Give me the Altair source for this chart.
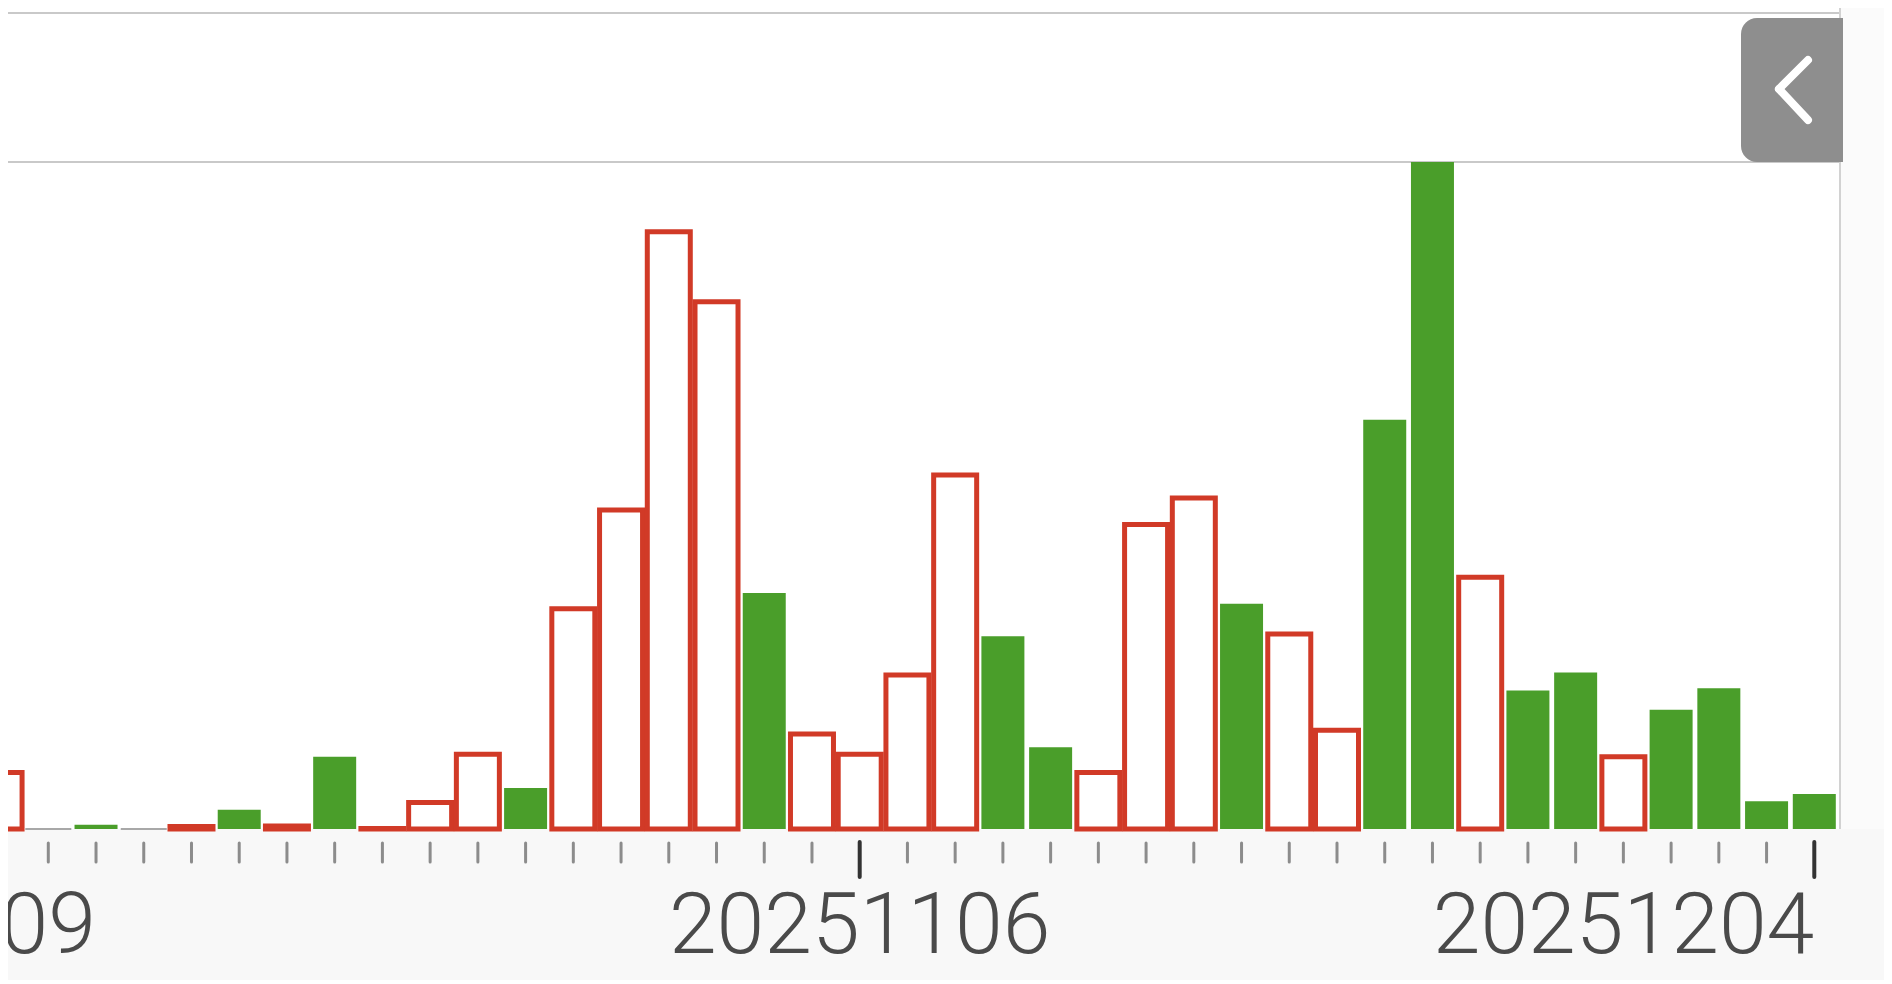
import altair as alt
import pandas as pd

# ---- data -----------------------------------------------------------------
# trading days on the axis (one tick per day)
all_dates = [
    "20251009", "20251010", "20251013", "20251014", "20251015", "20251016", "20251017",
    "20251020", "20251021", "20251022", "20251023", "20251024",
    "20251027", "20251028", "20251029", "20251030", "20251031",
    "20251103", "20251104", "20251105", "20251106", "20251107",
    "20251110", "20251111", "20251112", "20251113", "20251114",
    "20251117", "20251118", "20251119", "20251120", "20251121",
    "20251124", "20251125", "20251126", "20251127", "20251128",
    "20251201", "20251202", "20251203", "20251204",
]
# visible bars start at 20251013
bar_dates = all_dates[2:]
volumes = [47, 0, 3.5, 0, 2, 16, 2.5, 60, 0.5, 22, 62, 34, 183, 265, 496, 438,
           196, 79, 62, 128, 294, 160, 68, 47, 253, 275, 187, 162, 82, 340, 554,
           209, 115, 130, 60, 99, 117, 23, 29]
trend = ["up", "flat", "down", "flat", "up", "down", "up", "down", "up", "up",
         "up", "down", "up", "up", "up", "up", "down", "up", "up", "up", "up",
         "down", "down", "up", "up", "up", "down", "up", "up", "down", "down",
         "up", "down", "down", "up", "down", "down", "down", "down"]
major_labels = ["20251009", "20251106", "20251204"]

# ---- tables ----------------------------------------------------------------
bars = pd.DataFrame({
    "date": bar_dates,
    "pos": [all_dates.index(d) for d in bar_dates],
    "volume": volumes,
    "trend": trend,
})
ticks = pd.DataFrame({
    "date": all_dates,
    "pos": list(range(len(all_dates))),
    "major": [d in major_labels for d in all_dates],
})
labels = pd.DataFrame({
    "label": major_labels,
    "pos": [all_dates.index(d) for d in major_labels],
    "last": [i == len(major_labels) - 1 for i in range(len(major_labels))],
})

RED = "#d13a27"
GREEN = "#4a9e2a"

xscale = alt.Scale(domain=[3, 40], range=[35.3, 1811.3])
yscale = alt.Scale(domain=[0, max(volumes)], range=[821, 154], nice=False, zero=True)
X = alt.X("pos:Q", scale=xscale, axis=None)
Y = alt.Y("volume:Q", scale=yscale, axis=None)

one = alt.Data(values=[{"a": 1}])

plot_bg = alt.Chart(one).mark_rect(fill="white").encode(
    x=alt.value(0), x2=alt.value(1832), y=alt.value(0), y2=alt.value(821)
)
side_bg = alt.Chart(one).mark_rect(fill="#fbfbfb").encode(
    x=alt.value(1832), x2=alt.value(1884), y=alt.value(0), y2=alt.value(821)
)

base = alt.Chart(bars)
down_bars = base.transform_filter("datum.trend == 'down'").mark_bar(
    color=GREEN, size=43
).encode(x=X, y=Y, tooltip=["date:N", "volume:Q"])
up_bars = base.transform_filter("datum.trend == 'up'").mark_bar(
    fill="white", stroke=RED, strokeWidth=5, size=43
).encode(x=X, y=Y, tooltip=["date:N", "volume:Q"])
flat_bars = base.transform_filter("datum.trend == 'flat'").mark_bar(
    fill="#aaaaaa", stroke="#a8a8a8", strokeWidth=2, size=46
).encode(x=X, y=Y)

minor_ticks = alt.Chart(ticks).transform_filter("!datum.major").mark_rule(
    color="#8c8c8c", strokeWidth=3, strokeCap="round"
).encode(x=X, y=alt.value(835), y2=alt.value(854))
major_ticks = alt.Chart(ticks).transform_filter("datum.major").mark_rule(
    color="#333333", strokeWidth=4, strokeCap="round"
).encode(x=X, y=alt.value(834), y2=alt.value(869))

lab_style = dict(font="Roboto", fontSize=86, fontWeight=300, color="#4a4a4a",
                 baseline="alphabetic")
mid_labels = alt.Chart(labels).transform_filter("!datum.last").mark_text(
    align="center", **lab_style
).encode(x=X, y=alt.value(945), text="label:N")
end_labels = alt.Chart(labels).transform_filter("datum.last").mark_text(
    align="right", dx=0, **lab_style
).encode(x=X, y=alt.value(945), text="label:N")

# frame lines of the panel
line_top = alt.Chart(one).mark_rule(color="#c9c9c9", strokeWidth=2).encode(
    x=alt.value(0), x2=alt.value(1832), y=alt.value(5))
line_mid = alt.Chart(one).mark_rule(color="#c9c9c9", strokeWidth=2).encode(
    x=alt.value(0), x2=alt.value(1832), y=alt.value(154))
line_right = alt.Chart(one).mark_rule(color="#d2d2d2", strokeWidth=2).encode(
    x=alt.value(1832), y=alt.value(0), y2=alt.value(821))

# collapse button
button = alt.Chart(one).mark_rect(
    fill="#8e8e8e", cornerRadiusTopLeft=16, cornerRadiusBottomLeft=16
).encode(x=alt.value(1733), x2=alt.value(1835), y=alt.value(10), y2=alt.value(154))
chev1 = alt.Chart(one).mark_rule(color="white", strokeWidth=8, strokeCap="round").encode(
    x=alt.value(1800), y=alt.value(52), x2=alt.value(1771), y2=alt.value(81))
chev2 = alt.Chart(one).mark_rule(color="white", strokeWidth=8, strokeCap="round").encode(
    x=alt.value(1771), y=alt.value(81), x2=alt.value(1800), y2=alt.value(112))

chart = alt.layer(
    plot_bg, side_bg, line_top, line_mid, line_right,
    flat_bars, down_bars, up_bars,
    minor_ticks, major_ticks, mid_labels, end_labels,
    button, chev1, chev2,
).properties(
    width=1876, height=972, padding=0,
    autosize=alt.AutoSizeParams(type="none"),
    background="#f8f8f8",
).configure_view(strokeWidth=0)

chart.save("out.html", embed_options={"renderer": "svg", "actions": False})
